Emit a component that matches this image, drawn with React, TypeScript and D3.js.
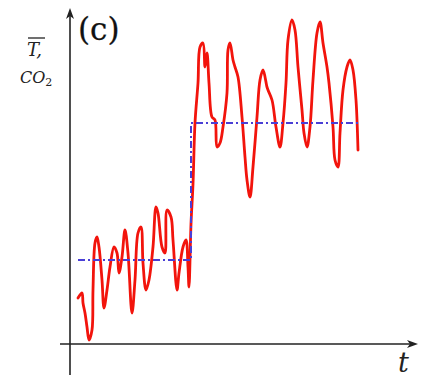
import React from "react";
import * as d3 from "d3";

// Time axis positions and the red temperature/CO2 trace (arbitrary units)
const traceT = [
  8, 12, 13, 15, 17, 19, 22, 23, 25, 27, 29, 32, 34, 37, 40, 44, 47, 49, 52, 55,
  58, 62, 65, 68, 71, 73, 76, 79, 83, 86, 88, 92, 95, 97, 101, 103, 107, 109, 113, 116,
  118, 119, 121, 123, 125, 128, 130, 133, 135, 137, 139, 142, 145, 147, 150, 153, 157, 158,
  160, 163, 165, 168, 172, 175, 177, 180, 183, 187, 190, 193, 197, 198, 202, 206, 210, 213,
  216, 218, 222, 225, 228, 232, 234, 237, 240, 243, 247, 250, 253, 257, 259, 263, 265, 268,
  270, 273, 277, 280, 283, 286, 288,
];
const traceV = [
  46, 51, 41, 31, 17, 4, 14, 54, 101, 107, 97, 64, 36, 54, 77, 97, 91, 71, 87, 114,
  91, 31, 64, 111, 117, 81, 54, 64, 97, 137, 131, 97, 91, 134, 127, 104, 54, 71, 97, 104,
  77, 57, 120, 160, 221, 261, 297, 301, 277, 291, 261, 227, 224, 197, 201, 217, 251, 294,
  301, 284, 277, 267, 227, 187, 164, 147, 177, 227, 264, 274, 257, 254, 244, 217, 197, 221,
  261, 304, 324, 314, 277, 234, 211, 197, 217, 264, 311, 322, 301, 277, 261, 217, 184, 177,
  211, 254, 277, 284, 274, 244, 194, 164,
];

// Blue dash-dot step: mean level before and after the jump
const stepT = [8, 121, 121, 288];
const stepV = [84, 84, 221, 221];

const W = 436;
const H = 380;
const SERIF = "'DejaVu Serif', serif";

export default function App() {
  const x = d3.scaleLinear().domain([0, 348]).range([70, 418]);
  const y = d3.scaleLinear().domain([0, 336]).range([344, 8]);

  const trace = d3
    .line<number>()
    .x((_, i) => x(traceT[i]))
    .y((v) => y(v))
    .curve(d3.curveCatmullRom.alpha(0.5))(traceV);

  const step = d3
    .line<number>()
    .x((_, i) => x(stepT[i]))
    .y((v) => y(v))(stepV);

  const x0 = x(0);
  const y0 = y(0);
  const xEnd = x(348);
  const yTop = y(336);

  return (
    <svg
      width={W}
      height={H}
      style={{ position: "absolute", left: 0, top: 0, background: "#fff" }}
    >
      {/* axes */}
      <line x1={x0} y1={375} x2={x0} y2={yTop + 8} stroke="#222" strokeWidth={1.6} />
      <line x1={60} y1={y0} x2={xEnd - 8} y2={y0} stroke="#222" strokeWidth={1.6} />
      <path
        d={`M${x0},${yTop} L${x0 - 4},${yTop + 11} L${x0},${yTop + 8} L${x0 + 4},${yTop + 11} Z`}
        fill="#222"
      />
      <path
        d={`M${xEnd},${y0} L${xEnd - 11},${y0 - 4} L${xEnd - 8},${y0} L${xEnd - 11},${y0 + 4} Z`}
        fill="#222"
      />

      {/* trace */}
      <path
        d={trace ?? ""}
        fill="none"
        stroke="#f2140c"
        strokeWidth={2.8}
        strokeLinejoin="round"
        strokeLinecap="round"
      />

      {/* step mean */}
      <path
        d={step ?? ""}
        fill="none"
        stroke="#4a3fd6"
        strokeWidth={2}
        strokeDasharray="7 3 2 3"
      />

      {/* labels */}
      <text x={78} y={40} fontFamily={SERIF} fontSize={31} fill="#111" stroke="#111" strokeWidth={0.25}>
        (c)
      </text>
      <text
        x={27}
        y={56}
        fontFamily={SERIF}
        fontStyle="italic"
        fontSize={18}
        fill="#222"
      >
        T,
      </text>
      <line x1={28} y1={38} x2={45} y2={38} stroke="#222" strokeWidth={1.3} />
      <text
        x={20}
        y={83}
        fontFamily={SERIF}
        fontStyle="italic"
        fontSize={16}
        fill="#222"
      >
        CO
        <tspan fontStyle="normal" fontSize={11} dy={3}>
          2
        </tspan>
      </text>
      <text
        x={398}
        y={372}
        fontFamily={SERIF}
        fontStyle="italic"
        fontSize={27}
        fill="#222"
      >
        t
      </text>
    </svg>
  );
}
